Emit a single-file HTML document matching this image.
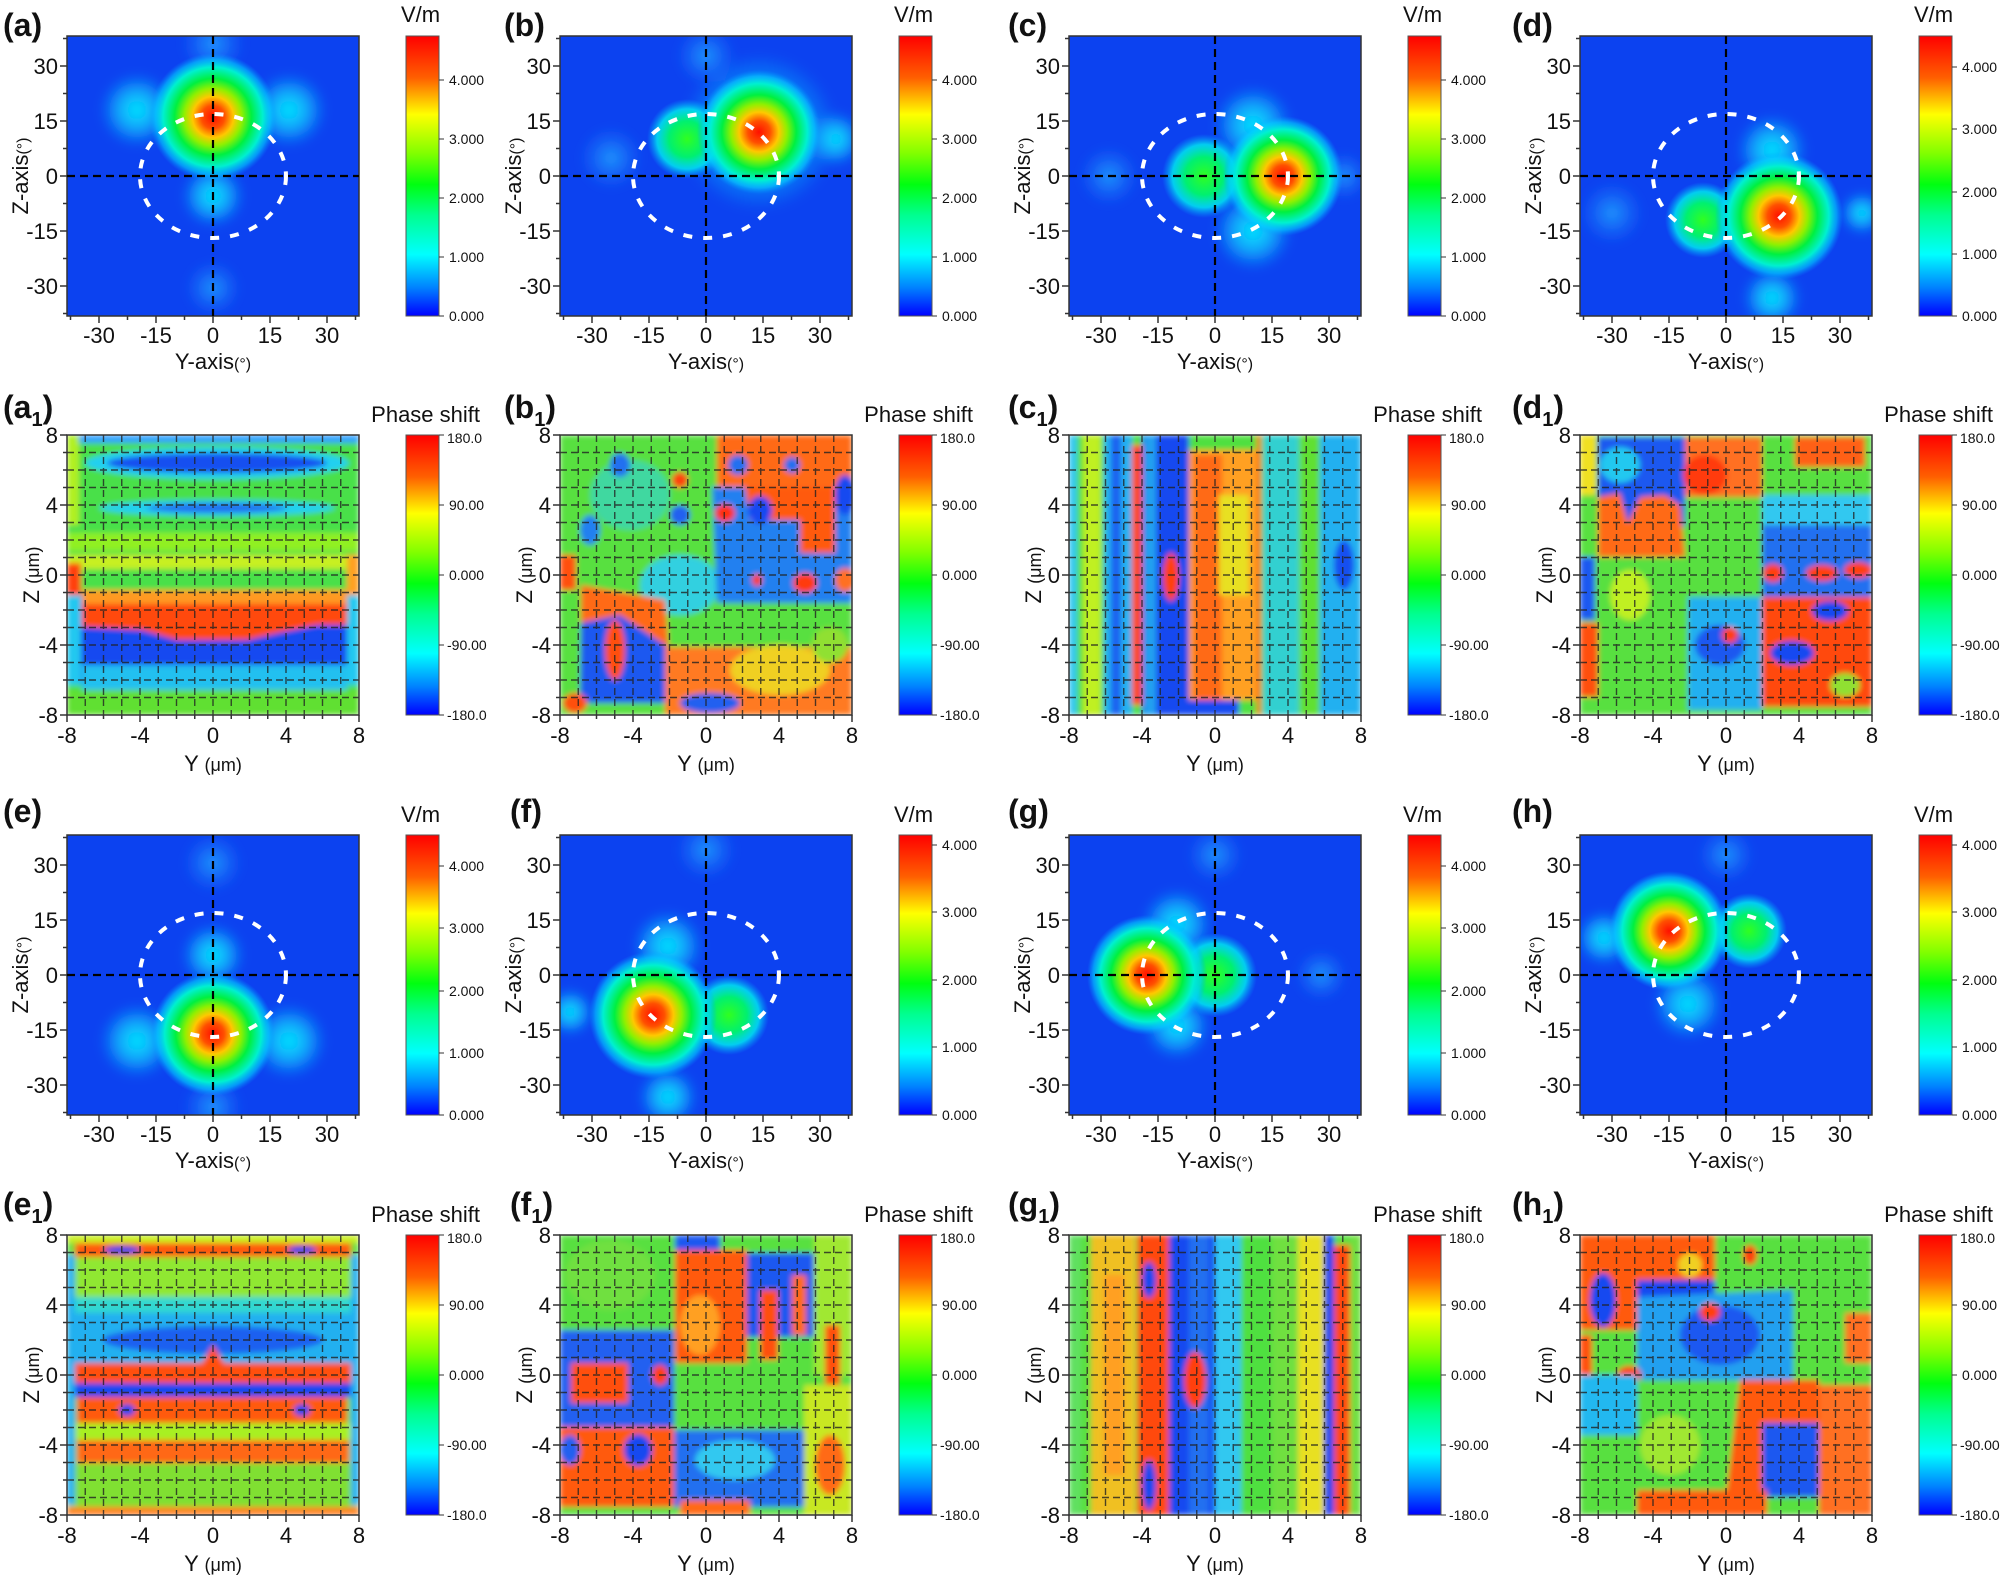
<!DOCTYPE html>
<html><head><meta charset="utf-8"><style>body{margin:0;background:#fff}svg{display:block}text{font-family:"Liberation Sans",Arial,sans-serif;fill:#111}</style></head><body>
<svg width="2001" height="1577" viewBox="0 0 2001 1577" xmlns="http://www.w3.org/2000/svg">
<defs>
<clipPath id="cp"><rect x="0" y="0" width="292" height="280"/></clipPath>
<filter id="bl" x="-5%" y="-5%" width="110%" height="110%"><feGaussianBlur stdDeviation="2.6"/></filter>
<filter id="bl2"><feGaussianBlur stdDeviation="5"/></filter>
<linearGradient id="cb" x1="0" y1="0" x2="0" y2="1"><stop offset="0" stop-color="#ff0000"/><stop offset=".15" stop-color="#ff6000"/><stop offset=".28" stop-color="#ffff00"/><stop offset=".42" stop-color="#80ff00"/><stop offset=".53" stop-color="#00ff10"/><stop offset=".64" stop-color="#00ff90"/><stop offset=".78" stop-color="#00ffff"/><stop offset=".9" stop-color="#0080ff"/><stop offset="1" stop-color="#0000ff"/></linearGradient>
<radialGradient id="hot"><stop offset="0" stop-color="#ff1000"/><stop offset=".18" stop-color="#ff5000"/><stop offset=".32" stop-color="#ffc800"/><stop offset=".45" stop-color="#90f000"/><stop offset=".6" stop-color="#00f040"/><stop offset=".78" stop-color="#00f0d0"/><stop offset=".9" stop-color="#00d0ff" stop-opacity=".6"/><stop offset="1" stop-color="#00a0ff" stop-opacity="0"/></radialGradient>
<radialGradient id="grn"><stop offset="0" stop-color="#30ff20"/><stop offset=".45" stop-color="#00f070"/><stop offset=".75" stop-color="#00f0f0" stop-opacity=".8"/><stop offset="1" stop-color="#00b0ff" stop-opacity="0"/></radialGradient>
<radialGradient id="cyn"><stop offset="0" stop-color="#00f0ff" stop-opacity=".95"/><stop offset=".5" stop-color="#10d0ff" stop-opacity=".7"/><stop offset="1" stop-color="#10a0ff" stop-opacity="0"/></radialGradient>
<radialGradient id="fnt"><stop offset="0" stop-color="#20a8ff" stop-opacity=".85"/><stop offset="1" stop-color="#2080ff" stop-opacity="0"/></radialGradient>
<path id="ftk" d="M32 280v7M89 280v7M146 280v7M203 280v7M260 280v7M3.5 280v4M60.5 280v4M117.5 280v4M174.5 280v4M231.5 280v4M288.5 280v4M0 30h-7M0 85h-7M0 140h-7M0 195h-7M0 250h-7M0 2.5h-4M0 57.5h-4M0 112.5h-4M0 167.5h-4M0 222.5h-4M0 277.5h-4" stroke="#333" stroke-width="1.5" fill="none"/>
<path id="ptk" d="M0 280v7M73 280v7M146 280v7M219 280v7M292 280v7M18.25 280v4M36.5 280v4M54.75 280v4M91.25 280v4M109.5 280v4M127.75 280v4M164.25 280v4M182.5 280v4M200.75 280v4M237.25 280v4M255.5 280v4M273.75 280v4M0 0h-7M0 70h-7M0 140h-7M0 210h-7M0 280h-7M0 17.5h-4M0 35h-4M0 52.5h-4M0 87.5h-4M0 105h-4M0 122.5h-4M0 157.5h-4M0 175h-4M0 192.5h-4M0 227.5h-4M0 245h-4M0 262.5h-4" stroke="#333" stroke-width="1.5" fill="none"/>
<path id="pg" d="M18.25 0V280M36.5 0V280M54.75 0V280M73 0V280M91.25 0V280M109.5 0V280M127.75 0V280M146 0V280M164.25 0V280M182.5 0V280M200.75 0V280M219 0V280M237.25 0V280M255.5 0V280M273.75 0V280M0 17.5H292M0 35H292M0 52.5H292M0 70H292M0 87.5H292M0 105H292M0 122.5H292M0 140H292M0 157.5H292M0 175H292M0 192.5H292M0 210H292M0 227.5H292M0 245H292M0 262.5H292" stroke="#222" stroke-opacity=".8" stroke-width="1.4" stroke-dasharray="7 4" fill="none"/>
<g id="xhair"><path d="M146 0V280M0 140H292" stroke="#000" stroke-width="2.2" stroke-dasharray="8 5" fill="none"/><ellipse cx="146" cy="140" rx="73" ry="62" fill="none" stroke="#fff" stroke-width="4" stroke-dasharray="9 11"/></g>
</defs>

<!-- ===== Field panel (a) ===== -->
<g transform="translate(67,36)">
<g clip-path="url(#cp)"><rect width="292" height="280" fill="#0c42f0"/>
<g filter="url(#bl2)">
<circle cx="146" cy="8" r="32" fill="url(#fnt)"/><circle cx="146" cy="252" r="28" fill="url(#fnt)"/>
<circle cx="70" cy="74" r="38" fill="url(#cyn)"/><circle cx="222" cy="74" r="38" fill="url(#cyn)"/><circle cx="146" cy="160" r="32" fill="url(#cyn)"/>
</g>
<circle cx="146" cy="81" r="64" fill="url(#hot)"/></g>
<rect width="292" height="280" fill="none" stroke="#333" stroke-width="1.5"/><use href="#xhair"/><use href="#ftk"/>
<g font-size="22" text-anchor="end"><text x="-9" y="38">30</text><text x="-9" y="93">15</text><text x="-9" y="148">0</text><text x="-9" y="203">-15</text><text x="-9" y="258">-30</text></g>
<g font-size="22" text-anchor="middle"><text x="32" y="307">-30</text><text x="89" y="307">-15</text><text x="146" y="307">0</text><text x="203" y="307">15</text><text x="260" y="307">30</text></g>
<text x="146" y="333" font-size="22" text-anchor="middle">Y-axis<tspan font-size="16">(°)</tspan></text>
<text transform="translate(-39,140) rotate(-90)" font-size="22" text-anchor="middle">Z-axis<tspan font-size="16">(°)</tspan></text>
<text x="-64" y="0" font-size="32" font-weight="bold">(a)</text>
<rect x="339" y="0" width="33" height="280" fill="url(#cb)" stroke="#555"/><path d="M372 280h5M372 221h5M372 162h5M372 103h5M372 44h5" stroke="#333"/>
<g font-size="14"><text x="382" y="285">0.000</text><text x="382" y="226">1.000</text><text x="382" y="167">2.000</text><text x="382" y="108">3.000</text><text x="382" y="49">4.000</text></g>
<text x="334" y="-14" font-size="22">V/m</text>
</g>

<!-- ===== (b) ===== -->
<g transform="translate(560,36)">
<g clip-path="url(#cp)"><rect width="292" height="280" fill="#0c42f0"/>
<g filter="url(#bl2)"><circle cx="51" cy="122" r="32" fill="url(#fnt)"/><circle cx="275" cy="103" r="28" fill="url(#cyn)"/><circle cx="146" cy="20" r="30" fill="url(#fnt)"/><circle cx="199" cy="96" r="80" fill="url(#cyn)"/></g>
<circle cx="127" cy="103" r="40" fill="url(#grn)"/><circle cx="199" cy="96" r="62" fill="url(#hot)"/></g>
<rect width="292" height="280" fill="none" stroke="#333" stroke-width="1.5"/><use href="#xhair"/><use href="#ftk"/>
<g font-size="22" text-anchor="end"><text x="-9" y="38">30</text><text x="-9" y="93">15</text><text x="-9" y="148">0</text><text x="-9" y="203">-15</text><text x="-9" y="258">-30</text></g>
<g font-size="22" text-anchor="middle"><text x="32" y="307">-30</text><text x="89" y="307">-15</text><text x="146" y="307">0</text><text x="203" y="307">15</text><text x="260" y="307">30</text></g>
<text x="146" y="333" font-size="22" text-anchor="middle">Y-axis<tspan font-size="16">(°)</tspan></text>
<text transform="translate(-39,140) rotate(-90)" font-size="22" text-anchor="middle">Z-axis<tspan font-size="16">(°)</tspan></text>
<text x="-56" y="0" font-size="32" font-weight="bold">(b)</text>
<rect x="339" y="0" width="33" height="280" fill="url(#cb)" stroke="#555"/><path d="M372 280h5M372 221h5M372 162h5M372 103h5M372 44h5" stroke="#333"/>
<g font-size="14"><text x="382" y="285">0.000</text><text x="382" y="226">1.000</text><text x="382" y="167">2.000</text><text x="382" y="108">3.000</text><text x="382" y="49">4.000</text></g>
<text x="334" y="-14" font-size="22">V/m</text>
</g>

<!-- ===== (c) ===== -->
<g transform="translate(1069,36)">
<g clip-path="url(#cp)"><rect width="292" height="280" fill="#0c42f0"/>
<g filter="url(#bl2)"><circle cx="40" cy="140" r="30" fill="url(#fnt)"/><circle cx="184" cy="89" r="40" fill="url(#cyn)"/><circle cx="184" cy="195" r="40" fill="url(#cyn)"/><circle cx="275" cy="140" r="24" fill="url(#fnt)"/></g>
<circle cx="135" cy="140" r="42" fill="url(#grn)"/><circle cx="214" cy="140" r="60" fill="url(#hot)"/></g>
<rect width="292" height="280" fill="none" stroke="#333" stroke-width="1.5"/><use href="#xhair"/><use href="#ftk"/>
<g font-size="22" text-anchor="end"><text x="-9" y="38">30</text><text x="-9" y="93">15</text><text x="-9" y="148">0</text><text x="-9" y="203">-15</text><text x="-9" y="258">-30</text></g>
<g font-size="22" text-anchor="middle"><text x="32" y="307">-30</text><text x="89" y="307">-15</text><text x="146" y="307">0</text><text x="203" y="307">15</text><text x="260" y="307">30</text></g>
<text x="146" y="333" font-size="22" text-anchor="middle">Y-axis<tspan font-size="16">(°)</tspan></text>
<text transform="translate(-39,140) rotate(-90)" font-size="22" text-anchor="middle">Z-axis<tspan font-size="16">(°)</tspan></text>
<text x="-61" y="0" font-size="32" font-weight="bold">(c)</text>
<rect x="339" y="0" width="33" height="280" fill="url(#cb)" stroke="#555"/><path d="M372 280h5M372 221h5M372 162h5M372 103h5M372 44h5" stroke="#333"/>
<g font-size="14"><text x="382" y="285">0.000</text><text x="382" y="226">1.000</text><text x="382" y="167">2.000</text><text x="382" y="108">3.000</text><text x="382" y="49">4.000</text></g>
<text x="334" y="-14" font-size="22">V/m</text>
</g>

<!-- ===== (d) ===== -->
<g transform="translate(1580,36)">
<g clip-path="url(#cp)"><rect width="292" height="280" fill="#0c42f0"/>
<g filter="url(#bl2)"><circle cx="32" cy="177" r="32" fill="url(#fnt)"/><circle cx="282" cy="177" r="22" fill="url(#cyn)"/><circle cx="192" cy="114" r="36" fill="url(#cyn)"/><circle cx="192" cy="262" r="30" fill="url(#cyn)"/></g>
<circle cx="123" cy="184" r="38" fill="url(#grn)"/><circle cx="199" cy="180" r="64" fill="url(#hot)"/></g>
<rect width="292" height="280" fill="none" stroke="#333" stroke-width="1.5"/><use href="#xhair"/><use href="#ftk"/>
<g font-size="22" text-anchor="end"><text x="-9" y="38">30</text><text x="-9" y="93">15</text><text x="-9" y="148">0</text><text x="-9" y="203">-15</text><text x="-9" y="258">-30</text></g>
<g font-size="22" text-anchor="middle"><text x="32" y="307">-30</text><text x="89" y="307">-15</text><text x="146" y="307">0</text><text x="203" y="307">15</text><text x="260" y="307">30</text></g>
<text x="146" y="333" font-size="22" text-anchor="middle">Y-axis<tspan font-size="16">(°)</tspan></text>
<text transform="translate(-39,140) rotate(-90)" font-size="22" text-anchor="middle">Z-axis<tspan font-size="16">(°)</tspan></text>
<text x="-68" y="0" font-size="32" font-weight="bold">(d)</text>
<rect x="339" y="0" width="33" height="280" fill="url(#cb)" stroke="#555"/><path d="M372 280h5M372 218h5M372 156h5M372 93h5M372 31h5" stroke="#333"/>
<g font-size="14"><text x="382" y="285">0.000</text><text x="382" y="223">1.000</text><text x="382" y="161">2.000</text><text x="382" y="98">3.000</text><text x="382" y="36">4.000</text></g>
<text x="334" y="-14" font-size="22">V/m</text>
</g>

<!-- ===== (e) ===== -->
<g transform="translate(67,835)">
<g clip-path="url(#cp)"><rect width="292" height="280" fill="#0c42f0"/>
<g filter="url(#bl2)"><circle cx="146" cy="28" r="30" fill="url(#fnt)"/><circle cx="146" cy="272" r="30" fill="url(#fnt)"/><circle cx="70" cy="206" r="38" fill="url(#cyn)"/><circle cx="222" cy="206" r="38" fill="url(#cyn)"/><circle cx="146" cy="120" r="32" fill="url(#cyn)"/></g>
<circle cx="146" cy="199" r="62" fill="url(#hot)"/></g>
<rect width="292" height="280" fill="none" stroke="#333" stroke-width="1.5"/><use href="#xhair"/><use href="#ftk"/>
<g font-size="22" text-anchor="end"><text x="-9" y="38">30</text><text x="-9" y="93">15</text><text x="-9" y="148">0</text><text x="-9" y="203">-15</text><text x="-9" y="258">-30</text></g>
<g font-size="22" text-anchor="middle"><text x="32" y="307">-30</text><text x="89" y="307">-15</text><text x="146" y="307">0</text><text x="203" y="307">15</text><text x="260" y="307">30</text></g>
<text x="146" y="333" font-size="22" text-anchor="middle">Y-axis<tspan font-size="16">(°)</tspan></text>
<text transform="translate(-39,140) rotate(-90)" font-size="22" text-anchor="middle">Z-axis<tspan font-size="16">(°)</tspan></text>
<text x="-64" y="-13" font-size="32" font-weight="bold">(e)</text>
<rect x="339" y="0" width="33" height="280" fill="url(#cb)" stroke="#555"/><path d="M372 280h5M372 218h5M372 156h5M372 93h5M372 31h5" stroke="#333"/>
<g font-size="14"><text x="382" y="285">0.000</text><text x="382" y="223">1.000</text><text x="382" y="161">2.000</text><text x="382" y="98">3.000</text><text x="382" y="36">4.000</text></g>
<text x="334" y="-13" font-size="22">V/m</text>
</g>

<!-- ===== (f) ===== -->
<g transform="translate(560,835)">
<g clip-path="url(#cp)"><rect width="292" height="280" fill="#0c42f0"/>
<g filter="url(#bl2)"><circle cx="10" cy="177" r="24" fill="url(#cyn)"/><circle cx="108" cy="111" r="36" fill="url(#cyn)"/><circle cx="108" cy="262" r="30" fill="url(#cyn)"/><circle cx="146" cy="15" r="30" fill="url(#fnt)"/></g>
<circle cx="169" cy="180" r="40" fill="url(#grn)"/><circle cx="93" cy="180" r="64" fill="url(#hot)"/></g>
<rect width="292" height="280" fill="none" stroke="#333" stroke-width="1.5"/><use href="#xhair"/><use href="#ftk"/>
<g font-size="22" text-anchor="end"><text x="-9" y="38">30</text><text x="-9" y="93">15</text><text x="-9" y="148">0</text><text x="-9" y="203">-15</text><text x="-9" y="258">-30</text></g>
<g font-size="22" text-anchor="middle"><text x="32" y="307">-30</text><text x="89" y="307">-15</text><text x="146" y="307">0</text><text x="203" y="307">15</text><text x="260" y="307">30</text></g>
<text x="146" y="333" font-size="22" text-anchor="middle">Y-axis<tspan font-size="16">(°)</tspan></text>
<text transform="translate(-39,140) rotate(-90)" font-size="22" text-anchor="middle">Z-axis<tspan font-size="16">(°)</tspan></text>
<text x="-50" y="-13" font-size="32" font-weight="bold">(f)</text>
<rect x="339" y="0" width="33" height="280" fill="url(#cb)" stroke="#555"/><path d="M372 280h5M372 212h5M372 145h5M372 77h5M372 10h5" stroke="#333"/>
<g font-size="14"><text x="382" y="285">0.000</text><text x="382" y="217">1.000</text><text x="382" y="150">2.000</text><text x="382" y="82">3.000</text><text x="382" y="15">4.000</text></g>
<text x="334" y="-13" font-size="22">V/m</text>
</g>

<!-- ===== (g) ===== -->
<g transform="translate(1069,835)">
<g clip-path="url(#cp)"><rect width="292" height="280" fill="#0c42f0"/>
<g filter="url(#bl2)"><circle cx="108" cy="89" r="36" fill="url(#cyn)"/><circle cx="108" cy="191" r="34" fill="url(#cyn)"/><circle cx="252" cy="140" r="26" fill="url(#fnt)"/><circle cx="146" cy="20" r="28" fill="url(#fnt)"/></g>
<circle cx="146" cy="140" r="42" fill="url(#grn)"/><circle cx="78" cy="140" r="60" fill="url(#hot)"/></g>
<rect width="292" height="280" fill="none" stroke="#333" stroke-width="1.5"/><use href="#xhair"/><use href="#ftk"/>
<g font-size="22" text-anchor="end"><text x="-9" y="38">30</text><text x="-9" y="93">15</text><text x="-9" y="148">0</text><text x="-9" y="203">-15</text><text x="-9" y="258">-30</text></g>
<g font-size="22" text-anchor="middle"><text x="32" y="307">-30</text><text x="89" y="307">-15</text><text x="146" y="307">0</text><text x="203" y="307">15</text><text x="260" y="307">30</text></g>
<text x="146" y="333" font-size="22" text-anchor="middle">Y-axis<tspan font-size="16">(°)</tspan></text>
<text transform="translate(-39,140) rotate(-90)" font-size="22" text-anchor="middle">Z-axis<tspan font-size="16">(°)</tspan></text>
<text x="-61" y="-13" font-size="32" font-weight="bold">(g)</text>
<rect x="339" y="0" width="33" height="280" fill="url(#cb)" stroke="#555"/><path d="M372 280h5M372 218h5M372 156h5M372 93h5M372 31h5" stroke="#333"/>
<g font-size="14"><text x="382" y="285">0.000</text><text x="382" y="223">1.000</text><text x="382" y="161">2.000</text><text x="382" y="98">3.000</text><text x="382" y="36">4.000</text></g>
<text x="334" y="-13" font-size="22">V/m</text>
</g>

<!-- ===== (h) ===== -->
<g transform="translate(1580,835)">
<g clip-path="url(#cp)"><rect width="292" height="280" fill="#0c42f0"/>
<g filter="url(#bl2)"><circle cx="24" cy="103" r="28" fill="url(#cyn)"/><circle cx="108" cy="169" r="36" fill="url(#cyn)"/><circle cx="146" cy="20" r="28" fill="url(#fnt)"/></g>
<circle cx="169" cy="96" r="38" fill="url(#grn)"/><circle cx="89" cy="96" r="60" fill="url(#hot)"/></g>
<rect width="292" height="280" fill="none" stroke="#333" stroke-width="1.5"/><use href="#xhair"/><use href="#ftk"/>
<g font-size="22" text-anchor="end"><text x="-9" y="38">30</text><text x="-9" y="93">15</text><text x="-9" y="148">0</text><text x="-9" y="203">-15</text><text x="-9" y="258">-30</text></g>
<g font-size="22" text-anchor="middle"><text x="32" y="307">-30</text><text x="89" y="307">-15</text><text x="146" y="307">0</text><text x="203" y="307">15</text><text x="260" y="307">30</text></g>
<text x="146" y="333" font-size="22" text-anchor="middle">Y-axis<tspan font-size="16">(°)</tspan></text>
<text transform="translate(-39,140) rotate(-90)" font-size="22" text-anchor="middle">Z-axis<tspan font-size="16">(°)</tspan></text>
<text x="-68" y="-13" font-size="32" font-weight="bold">(h)</text>
<rect x="339" y="0" width="33" height="280" fill="url(#cb)" stroke="#555"/><path d="M372 280h5M372 212h5M372 145h5M372 77h5M372 10h5" stroke="#333"/>
<g font-size="14"><text x="382" y="285">0.000</text><text x="382" y="217">1.000</text><text x="382" y="150">2.000</text><text x="382" y="82">3.000</text><text x="382" y="15">4.000</text></g>
<text x="334" y="-13" font-size="22">V/m</text>
</g>

<!-- ===== Phase panels ===== -->
<!-- a1 -->
<g transform="translate(67,435)">
<g clip-path="url(#cp)"><g filter="url(#bl)">
<rect width="292" height="280" fill="#48e048"/>
<rect width="292" height="8" fill="#30a0ff"/>
<ellipse cx="150" cy="28" rx="132" ry="16" fill="#20d0f0"/><ellipse cx="150" cy="28" rx="110" ry="10" fill="#1850f0"/>
<ellipse cx="150" cy="73" rx="118" ry="8" fill="#20d0f0"/><ellipse cx="150" cy="73" rx="70" ry="5" fill="#2070f0"/>
<rect x="0" y="98" width="292" height="18" fill="#90f020"/><rect x="0" y="120" width="292" height="14" fill="#c8f020"/>
<rect x="0" y="0" width="12" height="90" fill="#b0f020"/>
<path d="M0 160 L292 160 V250 H0Z" fill="#1848f0"/>
<rect x="15" y="230" width="265" height="25" fill="#20c0f0"/>
<rect x="0" y="255" width="292" height="25" fill="#60e030"/>
<path d="M15 158 H280 V190 H250 L215 197 L180 205 L110 205 L75 195 L15 192Z" fill="#ff4a10"/>
<rect x="15" y="155" width="265" height="14" fill="#ff9a20"/>
<rect x="0" y="128" width="14" height="32" fill="#ff4010"/><rect x="280" y="120" width="12" height="40" fill="#ffa020"/>
<rect x="0" y="160" width="14" height="90" fill="#20c8f0"/><rect x="280" y="160" width="12" height="90" fill="#20c8f0"/>
</g><use href="#pg"/></g>
<rect width="292" height="280" fill="none" stroke="#333" stroke-width="1.5"/><use href="#ptk"/>
</g>

<!-- b1 -->
<g transform="translate(560,435)">
<g clip-path="url(#cp)"><g filter="url(#bl)">
<rect width="292" height="280" fill="#58e040"/>
<ellipse cx="70" cy="60" rx="40" ry="35" fill="#40d8a0"/>
<ellipse cx="120" cy="150" rx="40" ry="30" fill="#30d0e0"/>
<path d="M152 52 H292 V168 H157Z" fill="#2080f0"/>
<path d="M157 0 H292 V52 H157Z" fill="#ff6a18"/>
<path d="M185 52 H275 V118 H240 V85 H190Z" fill="#ff5a10"/>
<ellipse cx="178" cy="30" rx="10" ry="10" fill="#2070f0"/><ellipse cx="232" cy="30" rx="8" ry="8" fill="#2070f0"/>
<ellipse cx="285" cy="60" rx="10" ry="20" fill="#1848f0"/><ellipse cx="200" cy="75" rx="12" ry="14" fill="#1848f0"/>
<ellipse cx="120" cy="45" rx="8" ry="8" fill="#ff4010"/><ellipse cx="165" cy="78" rx="10" ry="9" fill="#ff3010"/>
<ellipse cx="245" cy="148" rx="12" ry="10" fill="#ff3a10"/><ellipse cx="285" cy="145" rx="10" ry="12" fill="#ff7020"/>
<ellipse cx="197" cy="145" rx="5" ry="6" fill="#ff3a10"/>
<ellipse cx="120" cy="80" rx="10" ry="10" fill="#2060f0"/><ellipse cx="60" cy="30" rx="10" ry="12" fill="#2070f0"/><ellipse cx="30" cy="95" rx="10" ry="15" fill="#2080f0"/>
<rect x="0" y="120" width="16" height="35" fill="#ff5010"/>
<path d="M21 150 L105 165 L110 230 L21 228Z" fill="#ff6a18"/>
<path d="M21 188 L60 180 L105 210 L108 268 L20 268Z" fill="#1a58f0"/>
<ellipse cx="55" cy="215" rx="10" ry="30" fill="#ff5010"/>
<path d="M105 212 H292 V280 H105Z" fill="#ff7a20"/>
<ellipse cx="220" cy="235" rx="50" ry="25" fill="#f0d020"/>
<ellipse cx="150" cy="268" rx="30" ry="10" fill="#2060f0"/>
<ellipse cx="15" cy="268" rx="12" ry="10" fill="#ff5010"/>
<ellipse cx="270" cy="210" rx="18" ry="18" fill="#90e030"/>
</g><use href="#pg"/></g>
<rect width="292" height="280" fill="none" stroke="#333" stroke-width="1.5"/><use href="#ptk"/>
</g>

<!-- c1 -->
<g transform="translate(1069,435)">
<g clip-path="url(#cp)"><g filter="url(#bl)">
<rect width="292" height="280" fill="#50e040"/>
<rect x="0" y="0" width="8" height="280" fill="#30c8f0"/>
<rect x="14" y="0" width="18" height="280" fill="#c0f020"/>
<rect x="35" y="0" width="28" height="280" fill="#20b0f0"/>
<rect x="42" y="0" width="10" height="280" fill="#1a60f0"/>
<rect x="63" y="10" width="10" height="260" fill="#ff4a10"/>
<rect x="73" y="0" width="47" height="280" fill="#1848f0"/>
<rect x="75" y="0" width="12" height="280" fill="#20a0f0"/>
<ellipse cx="102" cy="142" rx="8" ry="24" fill="#ff4010"/>
<rect x="120" y="15" width="70" height="250" fill="#ffa020"/>
<rect x="125" y="20" width="28" height="245" fill="#ff6a18"/>
<rect x="150" y="60" width="30" height="100" fill="#e8e020"/>
<rect x="188" y="0" width="4" height="280" fill="#ff6010"/>
<rect x="194" y="0" width="36" height="280" fill="#30d0d0"/>
<rect x="230" y="0" width="20" height="280" fill="#60e030"/>
<rect x="251" y="0" width="41" height="280" fill="#20b0f0"/>
<ellipse cx="275" cy="130" rx="10" ry="25" fill="#1850f0"/>
<rect x="120" y="265" width="50" height="15" fill="#1848f0"/>
</g><use href="#pg"/></g>
<rect width="292" height="280" fill="none" stroke="#333" stroke-width="1.5"/><use href="#ptk"/>
</g>

<!-- d1 -->
<g transform="translate(1580,435)">
<g clip-path="url(#cp)"><g filter="url(#bl)">
<rect width="292" height="280" fill="#58e040"/>
<path d="M18 2 H105 V92 H18Z" fill="#1a58f0"/>
<ellipse cx="40" cy="30" rx="20" ry="18" fill="#20c8f0"/>
<path d="M105 2 H182 V62 H105Z" fill="#ff7020"/><ellipse cx="125" cy="40" rx="22" ry="20" fill="#ff3a10"/>
<path d="M18 62 L40 58 L48 88 L60 62 L85 60 L100 70 L105 122 H18Z" fill="#ff6a18"/>
<rect x="0" y="0" width="16" height="60" fill="#f0e020"/>
<path d="M215 2 H285 V32 H215Z" fill="#ff6018"/>
<path d="M182 60 H292 V162 H182Z" fill="#2070f0"/><rect x="182" y="60" width="110" height="30" fill="#30c8f0"/>
<ellipse cx="193" cy="138" rx="10" ry="9" fill="#ff4010"/><ellipse cx="242" cy="138" rx="16" ry="8" fill="#ff4010"/><ellipse cx="278" cy="135" rx="14" ry="8" fill="#ff4010"/>
<path d="M182 162 H292 V272 H182Z" fill="#ff4a10"/>
<ellipse cx="212" cy="218" rx="22" ry="12" fill="#1848f0"/><ellipse cx="250" cy="176" rx="18" ry="10" fill="#1848f0"/><ellipse cx="265" cy="250" rx="15" ry="12" fill="#90e030"/>
<path d="M108 162 H182 V275 H108Z" fill="#20b0f0"/><ellipse cx="140" cy="210" rx="25" ry="20" fill="#1a58f0"/>
<rect x="0" y="122" width="15" height="63" fill="#1a58f0"/>
<rect x="0" y="188" width="18" height="74" fill="#ff5010"/>
<ellipse cx="50" cy="160" rx="20" ry="25" fill="#c0f020"/>
<ellipse cx="150" cy="200" rx="8" ry="8" fill="#ff4010"/>
</g><use href="#pg"/></g>
<rect width="292" height="280" fill="none" stroke="#333" stroke-width="1.5"/><use href="#ptk"/>
</g>

<!-- e1 -->
<g transform="translate(67,1235)">
<g clip-path="url(#cp)"><g filter="url(#bl)">
<rect width="292" height="280" fill="#60e040"/>
<rect x="0" y="0" width="292" height="8" fill="#c8f020"/>
<rect x="8" y="8" width="276" height="14" fill="#ff5a10"/>
<ellipse cx="55" cy="15" rx="18" ry="4" fill="#1850f0"/><ellipse cx="235" cy="15" rx="14" ry="4" fill="#1850f0"/>
<rect x="0" y="22" width="292" height="40" fill="#90e830"/>
<rect x="0" y="62" width="292" height="16" fill="#30d8d0"/>
<rect x="0" y="78" width="292" height="50" fill="#20b0f0"/>
<ellipse cx="146" cy="105" rx="110" ry="14" fill="#1a60f0"/>
<rect x="8" y="128" width="276" height="20" fill="#ff5010"/>
<path d="M135 128 L146 110 L157 128Z" fill="#ff5010"/>
<rect x="5" y="148" width="280" height="14" fill="#1848f0"/>
<rect x="10" y="162" width="270" height="26" fill="#ff5a10"/>
<ellipse cx="60" cy="175" rx="8" ry="6" fill="#1848f0"/><ellipse cx="235" cy="175" rx="8" ry="6" fill="#1848f0"/>
<rect x="0" y="188" width="292" height="17" fill="#a8f020"/>
<rect x="10" y="205" width="272" height="23" fill="#ff6818"/>
<rect x="0" y="228" width="292" height="44" fill="#80e030"/>
<rect x="0" y="272" width="292" height="8" fill="#ff8020"/>
<rect x="0" y="20" width="8" height="250" fill="#20b0f0"/><rect x="284" y="20" width="8" height="250" fill="#20b0f0"/>
</g><use href="#pg"/></g>
<rect width="292" height="280" fill="none" stroke="#333" stroke-width="1.5"/><use href="#ptk"/>
</g>

<!-- f1 -->
<g transform="translate(560,1235)">
<g clip-path="url(#cp)"><g filter="url(#bl)">
<rect width="292" height="280" fill="#58e040"/>
<ellipse cx="50" cy="40" rx="45" ry="35" fill="#70e040"/>
<path d="M115 0 H160 V35 H115Z" fill="#1a58f0"/>
<path d="M115 15 H187 V128 H115Z" fill="#ff5a10"/><ellipse cx="140" cy="90" rx="20" ry="30" fill="#ffa020"/>
<path d="M187 18 H254 V102 H187Z" fill="#1a58f0"/>
<rect x="200" y="55" width="18" height="70" fill="#ff5010"/><rect x="232" y="40" width="14" height="60" fill="#ff6a18"/>
<rect x="254" y="0" width="38" height="140" fill="#a0e830"/><rect x="265" y="90" width="15" height="60" fill="#ff5010"/>
<path d="M0 95 H114 V192 H0Z" fill="#2060f0"/>
<path d="M11 128 H68 V168 H11Z" fill="#ff5010"/>
<ellipse cx="100" cy="140" rx="8" ry="10" fill="#ff4010"/>
<path d="M0 192 H114 V272 H0Z" fill="#ff5a10"/>
<ellipse cx="78" cy="215" rx="14" ry="16" fill="#1848f0"/><ellipse cx="10" cy="215" rx="10" ry="15" fill="#2060f0"/>
<path d="M114 195 H244 V272 H114Z" fill="#2070f0"/><ellipse cx="175" cy="225" rx="40" ry="20" fill="#30c8f0"/>
<path d="M244 150 H292 V280 H244Z" fill="#c8e820"/><ellipse cx="270" cy="230" rx="15" ry="30" fill="#ff6a18"/>
<rect x="120" y="265" width="70" height="15" fill="#ff6a18"/>
</g><use href="#pg"/></g>
<rect width="292" height="280" fill="none" stroke="#333" stroke-width="1.5"/><use href="#ptk"/>
</g>

<!-- g1 -->
<g transform="translate(1069,1235)">
<g clip-path="url(#cp)"><g filter="url(#bl)">
<rect width="292" height="280" fill="#58e040"/>
<rect x="0" y="0" width="12" height="280" fill="#60e060"/>
<rect x="22" y="0" width="44" height="280" fill="#f0c020"/>
<rect x="35" y="40" width="20" height="200" fill="#ffa020"/>
<rect x="68" y="0" width="32" height="280" fill="#ff4a10"/>
<ellipse cx="80" cy="45" rx="7" ry="18" fill="#1848f0"/><ellipse cx="80" cy="250" rx="7" ry="25" fill="#1848f0"/>
<rect x="100" y="0" width="46" height="280" fill="#1848f0"/>
<rect x="120" y="0" width="20" height="280" fill="#2070f0"/>
<ellipse cx="126" cy="145" rx="11" ry="28" fill="#ff4010"/>
<rect x="146" y="0" width="26" height="280" fill="#30c8f0"/>
<rect x="172" y="0" width="31" height="280" fill="#50e040"/>
<rect x="203" y="0" width="26" height="280" fill="#70e040"/>
<rect x="229" y="0" width="26" height="280" fill="#e8e020"/>
<rect x="255" y="0" width="10" height="280" fill="#1848f0"/>
<rect x="265" y="10" width="16" height="270" fill="#ff4a10"/>
<rect x="281" y="0" width="11" height="280" fill="#70e040"/>
</g><use href="#pg"/></g>
<rect width="292" height="280" fill="none" stroke="#333" stroke-width="1.5"/><use href="#ptk"/>
</g>

<!-- h1 -->
<g transform="translate(1580,1235)">
<g clip-path="url(#cp)"><g filter="url(#bl)">
<rect width="292" height="280" fill="#58e040"/>
<path d="M0 0 H135 V95 H0Z" fill="#ff5a10"/>
<ellipse cx="23" cy="65" rx="13" ry="27" fill="#1848f0"/>
<path d="M57 45 H135 V62 H57Z" fill="#1848f0"/>
<ellipse cx="110" cy="30" rx="12" ry="12" fill="#f0d020"/>
<path d="M57 62 L213 55 L213 145 L57 145Z" fill="#20a0f0"/>
<ellipse cx="140" cy="100" rx="40" ry="30" fill="#1a58f0"/>
<ellipse cx="130" cy="77" rx="10" ry="9" fill="#ff4010"/><ellipse cx="49" cy="140" rx="12" ry="9" fill="#ff4010"/>
<ellipse cx="170" cy="20" rx="7" ry="10" fill="#ff4010"/>
<rect x="0" y="100" width="12" height="40" fill="#ff5010"/>
<rect x="0" y="140" width="57" height="60" fill="#20b8f0"/>
<rect x="265" y="78" width="27" height="50" fill="#ff7020"/>
<path d="M160 145 L239 145 L239 200 L190 262 L146 262Z" fill="#ff5a10"/>
<path d="M182 188 H265 V262 H182Z" fill="#1a58f0"/>
<path d="M239 150 H292 V280 H239Z" fill="#ff7020"/>
<rect x="57" y="255" width="130" height="25" fill="#ff5a10"/>
<ellipse cx="90" cy="210" rx="30" ry="30" fill="#a0e830"/>
</g><use href="#pg"/></g>
<rect width="292" height="280" fill="none" stroke="#333" stroke-width="1.5"/><use href="#ptk"/>
</g>

<!-- Phase panel labels/axes -->
<g font-size="22" text-anchor="end">
<g transform="translate(67,435)"><text x="-9" y="8">8</text><text x="-9" y="78">4</text><text x="-9" y="148">0</text><text x="-9" y="218">-4</text><text x="-9" y="288">-8</text></g>
<g transform="translate(560,435)"><text x="-9" y="8">8</text><text x="-9" y="78">4</text><text x="-9" y="148">0</text><text x="-9" y="218">-4</text><text x="-9" y="288">-8</text></g>
<g transform="translate(1069,435)"><text x="-9" y="8">8</text><text x="-9" y="78">4</text><text x="-9" y="148">0</text><text x="-9" y="218">-4</text><text x="-9" y="288">-8</text></g>
<g transform="translate(1580,435)"><text x="-9" y="8">8</text><text x="-9" y="78">4</text><text x="-9" y="148">0</text><text x="-9" y="218">-4</text><text x="-9" y="288">-8</text></g>
<g transform="translate(67,1235)"><text x="-9" y="8">8</text><text x="-9" y="78">4</text><text x="-9" y="148">0</text><text x="-9" y="218">-4</text><text x="-9" y="288">-8</text></g>
<g transform="translate(560,1235)"><text x="-9" y="8">8</text><text x="-9" y="78">4</text><text x="-9" y="148">0</text><text x="-9" y="218">-4</text><text x="-9" y="288">-8</text></g>
<g transform="translate(1069,1235)"><text x="-9" y="8">8</text><text x="-9" y="78">4</text><text x="-9" y="148">0</text><text x="-9" y="218">-4</text><text x="-9" y="288">-8</text></g>
<g transform="translate(1580,1235)"><text x="-9" y="8">8</text><text x="-9" y="78">4</text><text x="-9" y="148">0</text><text x="-9" y="218">-4</text><text x="-9" y="288">-8</text></g>
</g>
<g font-size="22" text-anchor="middle">
<g transform="translate(67,435)"><text x="0" y="308">-8</text><text x="73" y="308">-4</text><text x="146" y="308">0</text><text x="219" y="308">4</text><text x="292" y="308">8</text><text x="146" y="336">Y <tspan font-size="18">(μm)</tspan></text><text transform="translate(-28,140) rotate(-90)">Z <tspan font-size="18">(μm)</tspan></text></g>
<g transform="translate(560,435)"><text x="0" y="308">-8</text><text x="73" y="308">-4</text><text x="146" y="308">0</text><text x="219" y="308">4</text><text x="292" y="308">8</text><text x="146" y="336">Y <tspan font-size="18">(μm)</tspan></text><text transform="translate(-28,140) rotate(-90)">Z <tspan font-size="18">(μm)</tspan></text></g>
<g transform="translate(1069,435)"><text x="0" y="308">-8</text><text x="73" y="308">-4</text><text x="146" y="308">0</text><text x="219" y="308">4</text><text x="292" y="308">8</text><text x="146" y="336">Y <tspan font-size="18">(μm)</tspan></text><text transform="translate(-28,140) rotate(-90)">Z <tspan font-size="18">(μm)</tspan></text></g>
<g transform="translate(1580,435)"><text x="0" y="308">-8</text><text x="73" y="308">-4</text><text x="146" y="308">0</text><text x="219" y="308">4</text><text x="292" y="308">8</text><text x="146" y="336">Y <tspan font-size="18">(μm)</tspan></text><text transform="translate(-28,140) rotate(-90)">Z <tspan font-size="18">(μm)</tspan></text></g>
<g transform="translate(67,1235)"><text x="0" y="308">-8</text><text x="73" y="308">-4</text><text x="146" y="308">0</text><text x="219" y="308">4</text><text x="292" y="308">8</text><text x="146" y="336">Y <tspan font-size="18">(μm)</tspan></text><text transform="translate(-28,140) rotate(-90)">Z <tspan font-size="18">(μm)</tspan></text></g>
<g transform="translate(560,1235)"><text x="0" y="308">-8</text><text x="73" y="308">-4</text><text x="146" y="308">0</text><text x="219" y="308">4</text><text x="292" y="308">8</text><text x="146" y="336">Y <tspan font-size="18">(μm)</tspan></text><text transform="translate(-28,140) rotate(-90)">Z <tspan font-size="18">(μm)</tspan></text></g>
<g transform="translate(1069,1235)"><text x="0" y="308">-8</text><text x="73" y="308">-4</text><text x="146" y="308">0</text><text x="219" y="308">4</text><text x="292" y="308">8</text><text x="146" y="336">Y <tspan font-size="18">(μm)</tspan></text><text transform="translate(-28,140) rotate(-90)">Z <tspan font-size="18">(μm)</tspan></text></g>
<g transform="translate(1580,1235)"><text x="0" y="308">-8</text><text x="73" y="308">-4</text><text x="146" y="308">0</text><text x="219" y="308">4</text><text x="292" y="308">8</text><text x="146" y="336">Y <tspan font-size="18">(μm)</tspan></text><text transform="translate(-28,140) rotate(-90)">Z <tspan font-size="18">(μm)</tspan></text></g>
</g>

<g>
<g transform="translate(67,435)"><rect x="339" width="33" height="280" fill="url(#cb)" stroke="#555"/><path d="M372 0h5M372 70h5M372 140h5M372 210h5M372 280h5" stroke="#333"/><g font-size="14"><text x="380" y="8">180.0</text><text x="382" y="75">90.00</text><text x="382" y="145">0.000</text><text x="380" y="215">-90.00</text><text x="380" y="285">-180.0</text></g><text x="413" y="-13" font-size="22" text-anchor="end">Phase shift</text><text x="-64" y="-17" font-size="32" font-weight="bold">(a<tspan font-size="20" dy="8">1</tspan><tspan dy="-8">)</tspan></text></g>
<g transform="translate(560,435)"><rect x="339" width="33" height="280" fill="url(#cb)" stroke="#555"/><path d="M372 0h5M372 70h5M372 140h5M372 210h5M372 280h5" stroke="#333"/><g font-size="14"><text x="380" y="8">180.0</text><text x="382" y="75">90.00</text><text x="382" y="145">0.000</text><text x="380" y="215">-90.00</text><text x="380" y="285">-180.0</text></g><text x="413" y="-13" font-size="22" text-anchor="end">Phase shift</text><text x="-56" y="-17" font-size="32" font-weight="bold">(b<tspan font-size="20" dy="8">1</tspan><tspan dy="-8">)</tspan></text></g>
<g transform="translate(1069,435)"><rect x="339" width="33" height="280" fill="url(#cb)" stroke="#555"/><path d="M372 0h5M372 70h5M372 140h5M372 210h5M372 280h5" stroke="#333"/><g font-size="14"><text x="380" y="8">180.0</text><text x="382" y="75">90.00</text><text x="382" y="145">0.000</text><text x="380" y="215">-90.00</text><text x="380" y="285">-180.0</text></g><text x="413" y="-13" font-size="22" text-anchor="end">Phase shift</text><text x="-61" y="-17" font-size="32" font-weight="bold">(c<tspan font-size="20" dy="8">1</tspan><tspan dy="-8">)</tspan></text></g>
<g transform="translate(1580,435)"><rect x="339" width="33" height="280" fill="url(#cb)" stroke="#555"/><path d="M372 0h5M372 70h5M372 140h5M372 210h5M372 280h5" stroke="#333"/><g font-size="14"><text x="380" y="8">180.0</text><text x="382" y="75">90.00</text><text x="382" y="145">0.000</text><text x="380" y="215">-90.00</text><text x="380" y="285">-180.0</text></g><text x="413" y="-13" font-size="22" text-anchor="end">Phase shift</text><text x="-68" y="-17" font-size="32" font-weight="bold">(d<tspan font-size="20" dy="8">1</tspan><tspan dy="-8">)</tspan></text></g>
<g transform="translate(67,1235)"><rect x="339" width="33" height="280" fill="url(#cb)" stroke="#555"/><path d="M372 0h5M372 70h5M372 140h5M372 210h5M372 280h5" stroke="#333"/><g font-size="14"><text x="380" y="8">180.0</text><text x="382" y="75">90.00</text><text x="382" y="145">0.000</text><text x="380" y="215">-90.00</text><text x="380" y="285">-180.0</text></g><text x="413" y="-13" font-size="22" text-anchor="end">Phase shift</text><text x="-64" y="-20" font-size="32" font-weight="bold">(e<tspan font-size="20" dy="8">1</tspan><tspan dy="-8">)</tspan></text></g>
<g transform="translate(560,1235)"><rect x="339" width="33" height="280" fill="url(#cb)" stroke="#555"/><path d="M372 0h5M372 70h5M372 140h5M372 210h5M372 280h5" stroke="#333"/><g font-size="14"><text x="380" y="8">180.0</text><text x="382" y="75">90.00</text><text x="382" y="145">0.000</text><text x="380" y="215">-90.00</text><text x="380" y="285">-180.0</text></g><text x="413" y="-13" font-size="22" text-anchor="end">Phase shift</text><text x="-50" y="-20" font-size="32" font-weight="bold">(f<tspan font-size="20" dy="8">1</tspan><tspan dy="-8">)</tspan></text></g>
<g transform="translate(1069,1235)"><rect x="339" width="33" height="280" fill="url(#cb)" stroke="#555"/><path d="M372 0h5M372 70h5M372 140h5M372 210h5M372 280h5" stroke="#333"/><g font-size="14"><text x="380" y="8">180.0</text><text x="382" y="75">90.00</text><text x="382" y="145">0.000</text><text x="380" y="215">-90.00</text><text x="380" y="285">-180.0</text></g><text x="413" y="-13" font-size="22" text-anchor="end">Phase shift</text><text x="-61" y="-20" font-size="32" font-weight="bold">(g<tspan font-size="20" dy="8">1</tspan><tspan dy="-8">)</tspan></text></g>
<g transform="translate(1580,1235)"><rect x="339" width="33" height="280" fill="url(#cb)" stroke="#555"/><path d="M372 0h5M372 70h5M372 140h5M372 210h5M372 280h5" stroke="#333"/><g font-size="14"><text x="380" y="8">180.0</text><text x="382" y="75">90.00</text><text x="382" y="145">0.000</text><text x="380" y="215">-90.00</text><text x="380" y="285">-180.0</text></g><text x="413" y="-13" font-size="22" text-anchor="end">Phase shift</text><text x="-68" y="-20" font-size="32" font-weight="bold">(h<tspan font-size="20" dy="8">1</tspan><tspan dy="-8">)</tspan></text></g>
</g>
</svg>
</body></html>
